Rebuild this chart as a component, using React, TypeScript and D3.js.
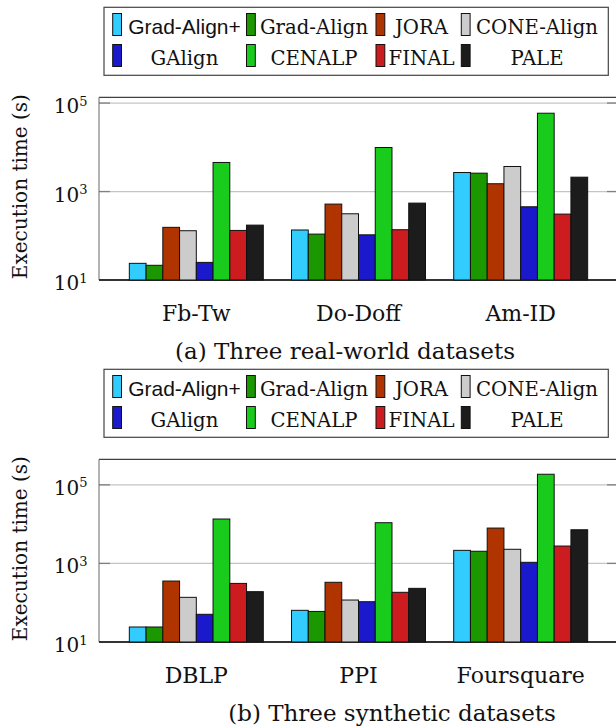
import React from "react";
import * as d3 from "d3";

// ---------- data ----------
const methods = ["Grad-Align+", "Grad-Align", "JORA", "CONE-Align", "GAlign", "CENALP", "FINAL", "PALE"];
const colors = ["#33ccff", "#1b9800", "#b03400", "#cccccc", "#1a1acc", "#19cc1c", "#cc1c1f", "#1c1c1c"];

const realDatasets = ["Fb-Tw", "Do-Doff", "Am-ID"];
const synthDatasets = ["DBLP", "PPI", "Foursquare"];

// execution time (s) per method, one value per dataset
const realGradAlignPlus = [23.8, 135, 2690];
const realGradAlign = [21.5, 109, 2600];
const realJORA = [155, 520, 1500];
const realCONE = [130, 314, 3680];
const realGAlign = [25, 105, 452];
const realCENALP = [4540, 9890, 58900];
const realFINAL = [132, 137, 309];
const realPALE = [174, 547, 2110];

const synGradAlignPlus = [24.1, 64, 2150];
const synGradAlign = [24.1, 60, 2040];
const synJORA = [356, 331, 7940];
const synCONE = [137, 117, 2290];
const synGAlign = [50.7, 106, 1067];
const synCENALP = [13500, 10870, 186000];
const synFINAL = [310, 184, 2770];
const synPALE = [191, 232, 7190];

const realSeries = [realGradAlignPlus, realGradAlign, realJORA, realCONE, realGAlign, realCENALP, realFINAL, realPALE];
const synSeries = [synGradAlignPlus, synGradAlign, synJORA, synCONE, synGAlign, synCENALP, synFINAL, synPALE];

const tickExponents = [1, 3, 5];
const yLabel = "Execution time (s)";
const captionA = "(a) Three real-world datasets";
const captionB = "(b) Three synthetic datasets";

// ---------- layout ----------
const W = 616;
const H = 727;
const SERIF = "'DejaVu Serif', serif";
const SANS = "'Liberation Sans', Arial, sans-serif";
const plotLeft = 99;
const plotRight = 618;

// legend column geometry
const swatchX = [112.7, 246.5, 376, 461.3];
const textCX = [184.5, 314, 421.5, 537];

function Legend({ top }: { top: number }) {
  return (
    <g>
      <rect x={104} y={top} width={504.3} height={68} fill="white" stroke="#444" strokeWidth={1.2} />
      {methods.map((m, i) => {
        const col = i % 4;
        const row = Math.floor(i / 4);
        const base = top + 26.7 + row * 31;
        return (
          <g key={m}>
            <rect x={swatchX[col]} y={base - 20.5} width={8.8} height={22} fill={colors[i]} stroke="#111" strokeWidth={1} />
            <text
              x={textCX[col]}
              y={base}
              textAnchor="middle"
              fontFamily={i === 0 ? SANS : SERIF}
              fontSize={i === 0 ? 21 : 19.7}
              fill="#111"
            >
              {m}
            </text>
          </g>
        );
      })}
    </g>
  );
}

function Panel({
  legendTop,
  plotTop,
  plotBottom,
  topExp,
  datasets,
  series,
  caption,
  captionX,
}: {
  legendTop: number;
  plotTop: number;
  plotBottom: number;
  topExp: number;
  datasets: string[];
  series: number[][];
  caption: string;
  captionX: number;
}) {
  const y = d3.scaleLog().domain([10, Math.pow(10, topExp)]).range([plotBottom, plotTop]);
  const x0 = d3.scaleBand<string>().domain(datasets).range([plotLeft, plotRight]).paddingInner(0.174).paddingOuter(0.187);
  const x1 = d3.scaleBand<string>().domain(methods).range([0, x0.bandwidth()]).padding(0);
  const ticks = tickExponents.map((e) => Math.pow(10, e));
  const midY = (plotTop + plotBottom) / 2 - 2;
  return (
    <g>
      <Legend top={legendTop} />
      {/* grid */}
      {ticks.map((t) => (
        <g key={t}>
          <line x1={plotLeft} x2={plotRight} y1={y(t)} y2={y(t)} stroke="#c4c4c4" strokeWidth={1.3} />
          <line x1={plotLeft} x2={plotLeft + 11} y1={y(t)} y2={y(t)} stroke="#808080" strokeWidth={1.3} />
          <line x1={plotRight - 11} x2={plotRight} y1={y(t)} y2={y(t)} stroke="#808080" strokeWidth={1.3} />
        </g>
      ))}
      {/* frame */}
      <line x1={plotLeft} x2={plotRight} y1={plotTop} y2={plotTop} stroke="#111" strokeWidth={1} />
      <line x1={plotLeft} x2={plotLeft} y1={plotTop} y2={plotBottom} stroke="#666" strokeWidth={1} />
      <line x1={plotRight} x2={plotRight} y1={plotTop} y2={plotBottom} stroke="#666" strokeWidth={1} />
      <line x1={plotLeft} x2={plotRight} y1={plotBottom} y2={plotBottom} stroke="#333" strokeWidth={2} />
      {/* bars */}
      {datasets.map((ds, di) => (
        <g key={ds}>
          {methods.map((m, mi) => {
            const v = series[mi][di];
            const bx = (x0(ds) as number) + (x1(m) as number);
            return (
              <rect
                key={m}
                x={bx}
                y={y(v)}
                width={x1.bandwidth()}
                height={plotBottom - y(v)}
                fill={colors[mi]}
                stroke="#111"
                strokeWidth={1}
              />
            );
          })}
        </g>
      ))}
      {/* y tick labels */}
      {tickExponents.map((e) => {
        const ty = y(Math.pow(10, e));
        return (
          <text key={e} x={87.5} y={ty + 10} textAnchor="end" fontFamily={SERIF} fontSize={20} fill="#111">
            10
            <tspan fontSize={13} dy={-7.5}>
              {e}
            </tspan>
          </text>
        );
      })}
      {/* y axis label */}
      <text
        transform={`translate(27,${midY}) rotate(-90)`}
        textAnchor="middle"
        fontFamily={SERIF}
        fontSize={20}
        fill="#111"
      >
        {yLabel}
      </text>
      {/* x tick labels */}
      {datasets.map((ds) => (
        <text
          key={ds}
          x={(x0(ds) as number) + x0.bandwidth() / 2}
          y={plotBottom + 41}
          textAnchor="middle"
          fontFamily={SERIF}
          fontSize={22}
          fill="#111"
        >
          {ds}
        </text>
      ))}
      {/* caption */}
      <text x={captionX} y={plotBottom + 79} textAnchor="middle" fontFamily={SERIF} fontSize={23} fill="#111">
        {caption}
      </text>
    </g>
  );
}

export default function App() {
  return (
    <svg
      width={W}
      height={H}
      viewBox={`0 0 ${W} ${H}`}
      style={{ position: "absolute", left: 0, top: 0, background: "white" }}
    >
      <rect x={0} y={0} width={W} height={H} fill="white" />
      <Panel
        legendTop={7.3}
        plotTop={97.3}
        plotBottom={280}
        topExp={5.13}
        datasets={realDatasets}
        series={realSeries}
        caption={captionA}
        captionX={345}
      />
      <Panel
        legendTop={369.3}
        plotTop={459.3}
        plotBottom={642}
        topExp={5.65}
        datasets={synthDatasets}
        series={synSeries}
        caption={captionB}
        captionX={392}
      />
    </svg>
  );
}
